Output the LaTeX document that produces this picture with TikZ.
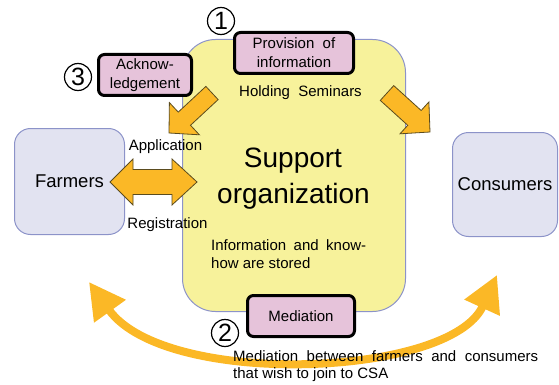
\documentclass[tikz,border=0pt]{standalone}
\usepackage{fontspec}
\setmainfont{Liberation Sans}
\usetikzlibrary{calc,arrows.meta}
\definecolor{orgfill}{RGB}{247,242,155}
\definecolor{orgline}{RGB}{140,147,201}
\definecolor{actfill}{RGB}{226,227,241}
\definecolor{pinkfill}{RGB}{230,195,218}
\definecolor{arrfill}{RGB}{251,184,38}
\definecolor{arrline}{RGB}{90,75,30}
\newcommand\mkblockarrow[5]{%
  \path ($(#2)!#5!(#1)$) coordinate (hb);
  \draw[barrow] ($(#1)!#3!90:(#2)$) -- ($(hb)!#3!90:(#2)$) -- ($(hb)!#4!90:(#2)$) -- (#2)
    -- ($(hb)!#4!-90:(#2)$) -- ($(hb)!#3!-90:(#2)$) -- ($(#1)!#3!-90:(#2)$) -- cycle;}
\begin{document}
\begin{tikzpicture}[x=1pt,y=-1pt,
  actor/.style={draw=orgline, line width=1pt, fill=actfill, rounded corners=16pt, inner sep=0pt,
    font=\fontsize{18.5}{22}\selectfont},
  orgbox/.style={draw=orgline, line width=1pt, fill=orgfill, rounded corners=33pt,
    minimum width=223pt, minimum height=272pt, inner sep=0pt},
  pinkbox/.style={draw=black, line width=3pt, fill=pinkfill, rounded corners=6pt, inner sep=0pt,
    align=center, font=\fontsize{15}{19}\selectfont},
  lbl/.style={inner sep=0pt, font=\fontsize{15}{19}\selectfont},
  num/.style={circle, draw=black, line width=1.2pt, fill=white, minimum size=27pt, inner sep=0pt,
    font=\fontsize{25}{25}\selectfont},
  barrow/.style={draw=arrline, line width=0.8pt, fill=arrfill, line join=miter},
  curvarrow/.style={draw=arrfill, line width=8pt,
    {Triangle[length=36pt,width=37pt]}-{Triangle[length=36pt,width=37pt]}}
]
\useasboundingbox (0,0) rectangle (559,385);

% main boxes
\node[orgbox] (org) at (294,175.5) {};
\node[actor, minimum width=110pt, minimum height=106pt] (farmers) at (69.5,181.5) {Farmers};
\node[actor, minimum width=105pt, minimum height=104pt] (consumers) at (505,184.5) {Consumers};

% pink boxes
\node[pinkbox, minimum width=119pt, minimum height=41pt] (prov) at (294,53) {Provision\ \ of\\information};
\node[pinkbox, minimum width=93pt, minimum height=41pt] (ack) at (145,75) {Acknow-\\ledgement};
\node[pinkbox, minimum width=107pt, minimum height=41pt] (med) at (301,316) {Mediation};

% block arrows
\coordinate (a1t) at (212,93);
\coordinate (a1p) at (169,133);
\mkblockarrow{a1t}{a1p}{9pt}{22pt}{21pt}
\coordinate (a2t) at (387,93);
\coordinate (a2p) at (430,132);
\mkblockarrow{a2t}{a2p}{10pt}{21.5pt}{21pt}

% double arrow farmers <-> organization
\coordinate (dl) at (110,182);
\coordinate (dr) at (197,182);
\draw[barrow] (dl) -- ++(23,-23) -- ++(0,10.5) -- ++(39,0) -- ++(0,-10.5) -- (dr)
  -- ++(-25,23) -- ++(0,-10.5) -- ++(-39,0) -- ++(0,10.5) -- cycle;

% curved mediation arrow
\coordinate (cl) at (89,282);
\coordinate (cr) at (497,275);
\draw[curvarrow] (cl) .. controls (165,388) and (450,378) .. (cr);

% labels
\node[lbl, anchor=base] (seminars) at (300.5,97) {Holding\ \ Seminars};
\node[lbl, anchor=base] (appl) at (165.5,150) {Application};
\node[lbl, anchor=base] (regi) at (167.5,228) {Registration};
\node[inner sep=0pt, anchor=base, font=\fontsize{28}{36}\selectfont] (sup1) at (293,167) {Support};
\node[inner sep=0pt, anchor=base, font=\fontsize{28}{36}\selectfont] (sup2) at (293.5,203) {organization};
\node[lbl, anchor=north west, text width=155pt, align=justify, font=\fontsize{15}{18}\selectfont] (stored)
  at (211,239) {Information and know-how are stored};
\node[lbl, anchor=north west, text width=305pt, align=justify, font=\fontsize{15}{17.5}\selectfont] (medtext)
  at (233,350) {Mediation between farmers and consumers that wish to join to CSA};

% circled numbers
\node[num] (n1) at (221,21) {1};
\node[num] (n3) at (78,77) {3};
\node[num] (n2) at (225,333) {2};
\end{tikzpicture}
\end{document}
